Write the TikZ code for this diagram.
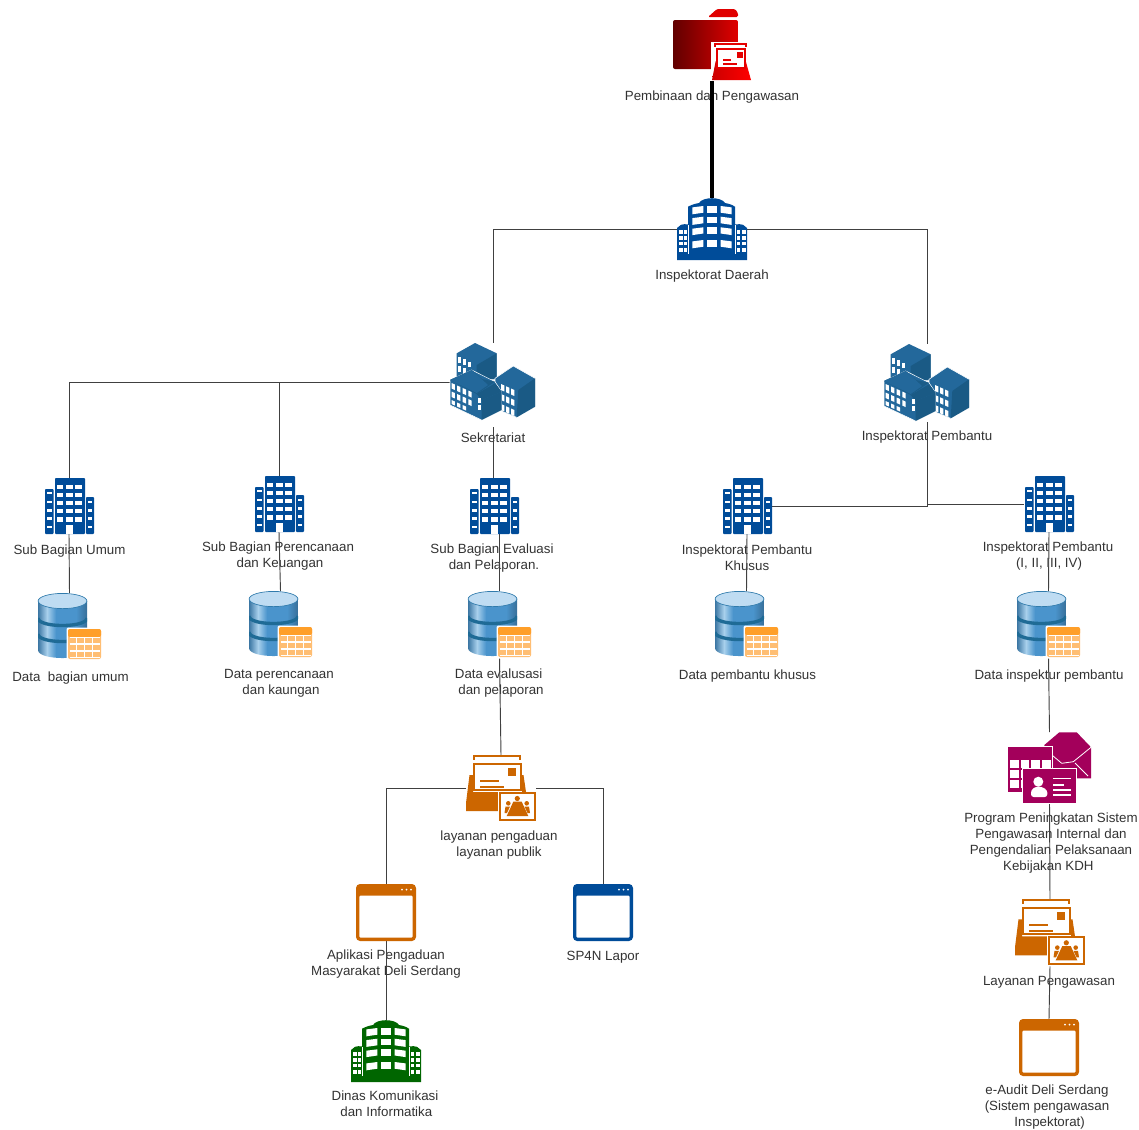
\documentclass[tikz,border=0pt]{standalone}
\usepackage{fontspec}
\setmainfont{Liberation Sans}
\usetikzlibrary{calc}
\definecolor{blueA}{HTML}{004C99}
\definecolor{greenA}{HTML}{006600}
\definecolor{orangeA}{HTML}{CC6600}
\definecolor{magentaA}{HTML}{A3005B}
\definecolor{clusterA}{HTML}{23689B}
\definecolor{clusterB}{HTML}{1A5A85}
\definecolor{txtA}{HTML}{333333}
\definecolor{dbA}{HTML}{4A94CC}
\definecolor{dbB}{HTML}{A8D0EC}
\definecolor{dbC}{HTML}{BFDCF2}
\definecolor{dbD}{HTML}{1F6B96}
\definecolor{tabA}{HTML}{FF9F29}
\definecolor{tabB}{HTML}{FFBE73}
\newcommand{\lsp}[1]{\hspace*{#1pt}}
\tikzset{
  every node/.append style={inner sep=0pt,outer sep=0pt},
  lbl/.style={align=center,text=txtA,font=\fontsize{10}{12}\selectfont,yshift=-1.5pt},
  conn/.style={draw=black!75,line width=.7pt},
  thickconn/.style={draw=black,line width=3pt},
  towerbox/.style={minimum width=37.5pt,minimum height=42pt},
  roundbox/.style={minimum width=52.5pt,minimum height=46.5pt},
  clusterbox/.style={minimum width=64.5pt,minimum height=58.5pt},
  dbbox/.style={minimum width=47.25pt,minimum height=49.5pt},
  winbox/.style={minimum width=45pt,minimum height=42.75pt},
  mailbox/.style={minimum width=52.5pt,minimum height=50.25pt},
  progbox/.style={minimum width=62.25pt,minimum height=53.25pt},
  folderbox/.style={minimum width=58.5pt,minimum height=53.25pt},
  pics/officeicon/.style={code={
    \fill[#1,rounded corners=.6pt] (11,0) rectangle (41,56);
    \fill[#1,rounded corners=.6pt] (1,11) rectangle (9.5,56);
    \fill[#1,rounded corners=.6pt] (42,19) rectangle (50,56);
    \foreach \yy/\hh in {7/3.5,15/3.7,23/4,31/3.7,39.3/4.4}{
      \fill[white] (13.3,\yy) rectangle +(6,\hh);
      \fill[white] (22,\yy) rectangle +(6.7,\hh);
      \fill[white] (31.3,\yy) rectangle +(6.7,\hh);
    }
    \fill[white] (21.7,47) rectangle (29.3,56);
    \foreach \yy in {13.7,22.7,31.3,39.3,47.7}{\fill[white] (3.3,\yy) rectangle +(4.4,2.4);}
    \foreach \yy in {22.7,31.3,39.3,47.7}{\fill[white] (43.7,\yy) rectangle +(4,2.4);}
  }},
  pics/roundicon/.style={code={
    \fill[#1] (0,30) -- (4,26.8) .. controls (6,26) and (9,26) .. (11,26.5) -- (11,8.7)
      .. controls (15,6.5) and (19,5.5) .. (22,5) .. controls (24,1.5) and (30,.2) .. (35,.2)
      .. controls (40,.2) and (46,1.5) .. (48,5) .. controls (51,5.5) and (55,6.5) .. (58,8.7)
      -- (58,26.5) .. controls (61,26) and (64,26) .. (66,26.8) -- (70,30) -- (70,62) -- (0,62) -- cycle;
    \foreach \yy/\hh in {8/6.7,18.7/6.6,29.3/6.2,42/6.7}{
      \fill[white] (15.3,\yy+1.4) -- (26.3,\yy) -- (26.3,\yy+\hh) -- (15.3,\yy+\hh+1.6) -- cycle;
      \fill[white] (29.7,\yy) rectangle +(10,\hh);
      \fill[white] (43.7,\yy) -- (54.7,\yy+1.4) -- (54.7,\yy+\hh+1.6) -- (43.7,\yy+\hh) -- cycle;
    }
    \foreach \yy in {32,38,43.7,50.3}{
      \fill[white] (1.5,\yy) rectangle +(4,3.6);
      \fill[white] (6.5,\yy) rectangle +(3.4,3.6);
      \fill[white] (60,\yy) rectangle +(3.4,3.6);
      \fill[white] (64.5,\yy) rectangle +(4,3.6);
    }
    \draw[white,line width=.4pt] (11.2,27) -- (11.2,56) (57.8,27) -- (57.8,56);
  }},
  pics/clustericon/.style={code={
    % back cube
    \fill[clusterA] (25,0) -- (6.7,10.3) -- (6.7,36) -- (46.7,36) -- (46.7,10.3) -- cycle;
    \fill[clusterB] (26.7,22) -- (46.7,10.3) -- (46.7,36) -- (26.7,36) -- cycle;
    \foreach \xx/\yy in {8/14,13/16,18/18.5,8/23,13/25}{\fill[white] (\xx,\yy) rectangle +(3.2,5.5);}
    % right cube
    \fill[clusterA,draw=white,line width=.4pt] (63.3,23) -- (45,35.3) -- (45,60) -- (53,68.7) -- (66.7,74.3) -- (85,63.7) -- (85,35.3) -- cycle;
    \fill[clusterB] (68.3,47) -- (85,35.3) -- (85,63.7) -- (66.7,74.3) -- cycle;
    \begin{scope}[shift={(51,41)},yslant=-.45]
      \foreach \ii in {0,1,2}\foreach \jj in {0,1,2}{\fill[white] (\ii*5,\jj*10) rectangle +(3.3,6);}
    \end{scope}
    % front cube
    \fill[clusterA,draw=white,line width=.4pt] (21.7,27) -- (0,37) -- (0,62) -- (31.7,77) -- (51.7,67) -- (51.7,48.7) -- (45,38.7) -- cycle;
    \fill[clusterB] (31.7,57) -- (51.7,48.7) -- (51.7,67) -- (31.7,77) -- cycle;
    \fill[clusterB] (26.7,51) -- (45,40.3) -- (51.7,48.7) -- (31.7,57) -- cycle;
    \fill[clusterB!85!clusterA] (21.7,27) -- (32,36) -- (45,38.7) -- (26.7,51) -- (0,37) -- cycle;
    \fill[clusterA] (21.7,27) -- (0,37) -- (26.7,50) -- (38,42) -- cycle;
    \begin{scope}[shift={(1.5,40)},yslant=-.45]
      \foreach \ii in {0,1,2,3}\foreach \jj in {0,1}{\fill[white] (\ii*5.6,\jj*8.5) rectangle +(3.3,5.5);}
      \foreach \ii in {0,1,2}{\fill[white] (\ii*5.6,17) rectangle +(3.3,4);}
    \end{scope}
    \foreach \yy in {54.5,62}{\fill[white] (27.5,\yy) rectangle +(3.2,5);}
  }},
  pics/dbicon/.style={code={
    \begin{scope}
      \clip (0,8) -- (0,57) .. controls (0,67.7) and (49,67.7) .. (49,57) -- (49,8) -- cycle;
      \shade[left color=dbA!80!black,right color=dbB] (0,0) rectangle (9,70);
      \shade[left color=dbB,right color=dbA] (9,0) rectangle (18,70);
      \fill[dbA] (18,0) rectangle (49,70);
      \shade[left color=dbA,right color=dbA!75!black] (38,0) rectangle (49,70);
      \draw[dbD,line width=2.5pt] (0,25) .. controls (0,35) and (49,35) .. (49,25);
      \draw[dbD,line width=2.5pt] (0,41) .. controls (0,51) and (49,51) .. (49,41);
    \end{scope}
    \fill[dbC,draw=dbD!60!dbA,line width=.5pt] (24.5,8) ellipse[x radius=24.4,y radius=7.6];
    \fill[white,rounded corners=1.5pt] (28.5,34.5) rectangle (64.5,67.5);
    \fill[tabB,rounded corners=1.5pt] (30,36) rectangle (63,66);
    \fill[tabA,rounded corners=1.5pt] (30,36) rectangle (63,44);
    \foreach \xx in {38.25,46.5,54.75}{\draw[white,line width=.8pt] (\xx,44) -- (\xx,64.5);}
    \foreach \yy in {44.5,51,58,64.5}{\draw[white,line width=.8pt] (31.5,\yy) -- (61.5,\yy);}
  }},
  pics/winicon/.style={code={
    \fill[#1,rounded corners=3pt] (0,0) rectangle (60,57);
    \fill[white,rounded corners=1pt] (3.3,11.5) rectangle (56.7,53.7);
    \foreach \xx in {46,50.5,55}{\fill[white] (\xx,5.5) circle[radius=1];}
  }},
  pics/mailicon/.style={code={
    \draw[#1,line width=1.5pt] (8.3,4.5) -- (8.3,.9) -- (54,.9) -- (54,4.5);
    \fill[#1] (0,56) -- (0,48) -- (3.5,20) -- (7,20) -- (7,37) -- (56,37) -- (56,20) -- (57.5,20) -- (60,37) -- (33,37) -- (33,56) -- cycle;
    \draw[#1,line width=1.5pt,fill=white] (7.5,8.5) rectangle (55,35);
    \fill[#1] (42,13) rectangle (49.5,21);
    \draw[#1,line width=1.4pt] (14,26) -- (33,26) (14,32) -- (38,32);
    \draw[white,line width=1pt] (33,37) -- (33,65.5);
    \draw[#1,line width=1.5pt,fill=white] (34,37.5) rectangle (69,64.5);
    \fill[#1] (47.3,46.7) -- (55.7,46.7) -- (62.3,61) -- (40.7,61) -- cycle;
    \fill[#1] (51.3,43.5) circle[radius=2.6] (42.3,48.3) circle[radius=2.3] (60.7,48.3) circle[radius=2.3];
    \fill[#1] (38.5,58) -- (39.5,51.5) -- (44,51.5) -- (41,58) -- cycle;
    \fill[#1] (64,58) -- (63,51.5) -- (58.5,51.5) -- (61.5,58) -- cycle;
  }},
  pics/progicon/.style={code={
    \fill[#1] (36.3,13) -- (51.3,.3) -- (68.7,.3) -- (83,15.3) -- (83,46.3) -- (60,46.3) -- (60,60) -- (36.3,50) -- cycle;
    \draw[white,line width=.6pt] (44.7,23.7) -- (53.7,31.3) -- (65.3,29.7) -- (83,15.3);
    \draw[white,line width=.6pt] (67,31) -- (80,44);
    \fill[white] (-1,13.7) rectangle (45.3,60.7);
    \fill[#1] (-.3,14.7) rectangle (44.3,59.7);
    \foreach \yy in {28,38,48}{
      \foreach \xa/\xb in {2/11.3,12.7/21.3,22.7/32,33.7/42.7}{\fill[white] (\xa,\yy) rectangle (\xb,\yy+8.3);}
    }
    \fill[white] (14.3,36.3) rectangle (68.7,71.7);
    \fill[#1] (15.3,37.3) rectangle (67.7,70.7);
    \fill[white] (30.3,49.7) circle[radius=5];
    \fill[white,rounded corners=2pt] (23,65) -- (23,58) -- (28,54.5) -- (33,54.5) -- (39.3,58) -- (39.3,65) -- cycle;
    \draw[white,line width=.9pt] (45.3,46.3) -- (62.7,46.3) (45.3,53) -- (56,53) (45.3,58) -- (62.7,58) (45.3,63) -- (62.7,63);
  }},
  pics/foldericon/.style={code={
    \shade[left color=red!38!black,right color=red!88!black,rounded corners=1.5pt] (0,11) rectangle (65,60);
    \fill[red!88!black,rounded corners=1pt] (35,8) -- (44,0) -- (62,0) -- (65,4) -- (65,8) -- cycle;
    % mailbox overlay
    \fill[white] (38,33) rectangle (79,72);
    \draw[red!90!black,line width=1.2pt] (42,37.5) -- (42,34.8) -- (73,34.8) -- (73,37.5);
    \shade[left color=red!80!black,right color=red] (39,71) -- (42.7,52) -- (72.7,52) -- (78,71) -- cycle;
    \fill[red!90!black] (42.7,38.5) rectangle (73,60);
    \fill[white] (45,41) rectangle (70.7,58);
    \fill[red!90!black] (64,43) rectangle (70,49);
    \draw[red!90!black,line width=1pt] (50,51) -- (58,51) (50,55) -- (64,55);
  }}
}
\begin{document}
\begin{tikzpicture}[x=.75pt,y=-.75pt]
\useasboundingbox (0,0) rectangle (1139,1129);
\fill[white] (0,0) rectangle (1139,1129);
% icon nodes
\node[folderbox] (pembinaan) at (712,44.5) {};
\node[roundbox] (daerah) at (712,229) {};
\node[clusterbox] (sek) at (493,382) {};
\node[clusterbox] (pemb) at (927,383) {};
\node[towerbox] (umum) at (69,506) {};
\node[towerbox] (renc) at (279,504) {};
\node[towerbox] (eval) at (494,506) {};
\node[towerbox] (khusus) at (747,506) {};
\node[towerbox] (irban) at (1049,504) {};
\node[dbbox] (dumum) at (69.5,626) {};
\node[dbbox] (drenc) at (280.5,624) {};
\node[dbbox] (deval) at (499.5,624) {};
\node[dbbox] (dkhusus) at (746.5,624) {};
\node[dbbox] (dirban) at (1048.5,624) {};
\node[mailbox] (layanan) at (501,788.5) {};
\node[winbox] (aplikasi) at (386,912.5) {};
\node[winbox] (sp4n) at (603,912.5) {};
\node[roundbox] (dinas) at (386,1051) {};
\node[progbox] (program) at (1049.5,767.5) {};
\node[mailbox] (lpeng) at (1050,932.8) {};
\node[winbox] (eaudit) at (1049,1047.5) {};
% labels
\node[lbl] (t1) at (712,95.5) {Pembinaan dan Pengawasan};
\node[lbl] (t2) at (712,274.5) {Inspektorat Daerah};
\node[lbl] (t3) at (493,435.5) {Sekretariat};
\node[lbl] (t4) at (927,435.5) {Inspektorat Pembantu};
\node[lbl] (t5) at (69.5,549) {Sub Bagian Umum};
\node[lbl] (t6) at (278,554.5) {Sub Bagian Perencanaan\\\lsp{3}dan Keuangan};
\node[lbl] (t7) at (492,556.5) {Sub Bagian Evaluasi\\\lsp{3}dan Pelaporan.};
\node[lbl] (t8) at (747,556) {Inspektorat Pembantu\\Khusus};
\node[lbl] (t9) at (1048,554) {Inspektorat Pembantu\\\lsp{1.5}(I, II, III, IV)};
\node[lbl] (t10) at (70.5,676) {Data\ \ bagian umum};
\node[lbl] (t11) at (279,681.5) {Data perencanaan\\\lsp{3}dan kaungan};
\node[lbl] (t12) at (500,681.5) {Data evalusasi\lsp{2}\\\lsp{1.5}dan pelaporan};
\node[lbl] (t13) at (747.5,674) {Data pembantu khusus};
\node[lbl] (t14) at (1049,674) {Data inspektur pembantu};
\node[lbl] (t15) at (499,843.5) {layanan pengaduan\\layanan publik};
\node[lbl] (t16) at (1051,841) {Program Peningkatan Sistem\\Pengawasan Internal dan\lsp{4}\\Pengendalian Pelaksanaan\lsp{5}\\Kebijakan KDH\lsp{4}};
\node[lbl] (t17) at (386,962.5) {Aplikasi Pengaduan\\Masyarakat Deli Serdang};
\node[lbl] (t18) at (603,955) {SP4N Lapor};
\node[lbl] (t19) at (385,1101.5) {Dinas Komunikasi\\\lsp{2}dan Informatika};
\node[lbl] (t20) at (1049,980) {Layanan Pengawasan};
\node[lbl] (t21) at (1047,1105.5) {e-Audit Deli Serdang\\(Sistem pengawasan\\\lsp{4}Inspektorat)};
% connectors
\draw[thickconn] ([yshift=-.5pt]pembinaan.south) -- (daerah.north);
\draw[conn] (daerah.west) -| (sek.north);
\draw[conn] (daerah.east) -| (pemb.north);
\draw[conn] (sek.west) -| (umum.north);
\draw[conn] (sek.west) -| (renc.north);
\draw[conn] ([yshift=-4.5pt]sek.south) -- (sek.south |- eval.north);
\draw[conn] (pemb.south) |- (khusus.east);
\draw[conn] (pemb.south) |- (irban.west);
\draw[conn] (umum.south) -- (dumum.north);
\draw[conn] (renc.south) -- (drenc.north);
\draw[conn] (deval.north |- eval.south) -- (deval.north);
\draw[conn] (khusus.south) -- (dkhusus.north);
\draw[conn] (irban.south) -- (dirban.north);
\draw[conn] (deval.south) -- (layanan.north);
\draw[conn] (layanan.west) -| (aplikasi.north);
\draw[conn] (layanan.east) -| (sp4n.north);
\draw[conn] (aplikasi.south) -- (dinas.north);
\draw[conn] (dirban.south) -- (program.north);
\draw[conn] (program.south) -- (lpeng.north);
\draw[conn] (lpeng.south) -- (eaudit.north);
% icons
\pic at (pembinaan.north west) {foldericon};
\pic at (daerah.north west) {roundicon=blueA};
\pic at (sek.north west) {clustericon};
\pic at (pemb.north west) {clustericon};
\foreach \nn in {umum,renc,eval,khusus,irban}{\pic at (\nn.north west) {officeicon=blueA};}
\foreach \nn in {dumum,drenc,deval,dkhusus,dirban}{\pic at (\nn.north west) {dbicon};}
\pic at (layanan.north west) {mailicon=orangeA};
\pic at (lpeng.north west) {mailicon=orangeA};
\pic at (aplikasi.north west) {winicon=orangeA};
\pic at (sp4n.north west) {winicon=blueA};
\pic at (eaudit.north west) {winicon=orangeA};
\pic at (dinas.north west) {roundicon=greenA};
\pic at (program.north west) {progicon=magentaA};
\end{tikzpicture}
\end{document}
